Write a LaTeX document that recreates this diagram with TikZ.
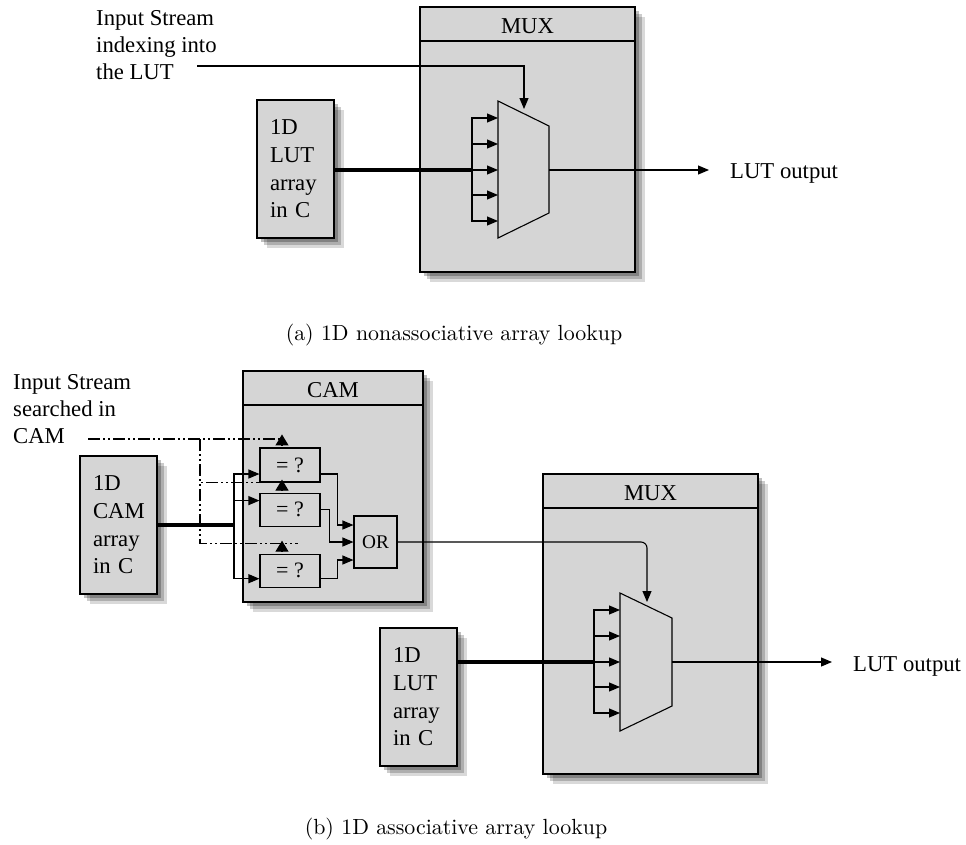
\documentclass[tikz,border=0pt]{standalone}
\usepackage{fontspec}
\setmainfont{Liberation Serif}
\newfontfamily\capfont[Extension=.otf]{lmroman10-regular}
\usetikzlibrary{arrows.meta,shadows,positioning}

\definecolor{blockgray}{gray}{0.835}

\tikzstyle{softshadow} = [general shadow={shadow xshift=4pt, shadow yshift=-4pt, fill=black, opacity=0.25},
                      general shadow={shadow xshift=7pt, shadow yshift=-7pt, fill=black, opacity=0.2},
                      general shadow={shadow xshift=10pt, shadow yshift=-10pt, fill=black, opacity=0.15}]
\tikzstyle{block} = [rectangle, draw=black, line width=1.1pt, fill=blockgray, softshadow, inner sep=0pt]
\tikzstyle{header} = [rectangle, draw=black, line width=1.1pt, fill=blockgray, anchor=north,
                      inner sep=0pt, text height=19pt, text depth=0pt, font=\fontsize{22.7}{27}\selectfont]
\tikzstyle{array} = [block, minimum width=77pt, minimum height=138pt, text width=51pt, align=left,
                      font=\fontsize{22.7}{27.6}\selectfont]
\tikzstyle{compare} = [rectangle, draw=black, line width=1.1pt, fill=blockgray, minimum width=60pt,
                      minimum height=33pt, inner sep=0pt, font=\fontsize{22}{24}\selectfont]
\tikzstyle{label} = [inner sep=0pt, align=left, font=\fontsize{22.7}{27}\selectfont]
\tikzstyle{legend} = [inner sep=0pt, font=\capfont\fontsize{21.9}{24}\selectfont]
\tikzstyle{wire} = [line width=1.1pt, -{Triangle[length=11pt,width=9pt]}]
\tikzstyle{bus} = [line width=3.6pt]
\tikzstyle{probe} = [line width=1.1pt, dash pattern=on 12pt off 3pt on 2pt off 3pt on 2pt off 3pt]
\tikzstyle{probetip} = [line width=1.1pt, -{Triangle[length=11pt,width=13pt]}]
\tikzstyle{gate} = [draw=black, line width=1.1pt, fill=blockgray]

\begin{document}
\begin{tikzpicture}[x=1pt, y=-1pt]

  \useasboundingbox (0,0) rectangle (966,844);

  % (a) nonassociative lookup
  \node (muxa) [block, minimum width=215pt, minimum height=265pt] at (527.5,139.5) {};
  \node (muxa-head) [header, minimum width=215pt, minimum height=34pt] at (muxa.north) {MUX};

  \node (luta) [array] at (295.5,169) {1D\\LUT\\array\\in C};

  \node (inputa) [label, anchor=north west] at (96,10) {Input Stream\\indexing into\\the LUT};
  \coordinate (inputa-end) at (197,66);

  \coordinate (muxa-nw) at (498,101);
  \coordinate (muxa-fork) at (472,170);
  \coordinate (muxa-out) at (549,170);
  \coordinate (muxa-sel) at (524,109);

  \draw[gate] (muxa-nw) -- ++(51,25) -- ++(0,87) -- ++(-51,25) -- cycle;

  \draw[bus] (luta.east |- muxa-fork) -- (muxa-fork);
  \foreach \y in {17,43,69,94,120}
    \draw[wire] (muxa-fork) |- ([yshift=-\y pt]muxa-nw);
  \draw[wire] (inputa-end) -| (muxa-sel);

  \node (outa) [label, anchor=west] at (730,173) {LUT output};
  \draw[wire] (muxa-out) -- ([xshift=-21pt]outa.west |- muxa-out);

  \node (capa) [legend] at (454,335) {(a) 1D nonassociative array lookup};

  % (b) associative lookup
  \node (camarray) [array] at (118.5,525) {1D\\CAM\\array\\in C};

  \node (cam) [block, minimum width=180pt, minimum height=231pt] at (333,486.5) {};
  \node (cam-head) [header, minimum width=180pt, minimum height=34pt] at (cam.north) {CAM};

  \node (eqa) [compare, minimum height=34pt] at (290,465) {= ?};
  \node (eqb) [compare, below=10pt of eqa] {= ?};
  \node (eqc) [compare, below=27pt of eqb] {= ?};
  \node (or) [compare, minimum width=43pt, minimum height=52pt, font=\fontsize{19.3}{22}\selectfont]
    at (375.5,542) {OR};

  \node (inputb) [label, anchor=north west] at (13,374) {Input Stream\\searched in\\CAM};

  \coordinate (fork) at (234,525);
  \draw[bus] (camarray.east |- fork) -- (fork);
  \draw[wire] (fork) |- ([yshift=-9pt]eqa.west);
  \draw[wire] (fork) |- ([yshift=9pt]eqb.west);
  \draw[wire] (fork) |- ([yshift=-8pt]eqc.west);

  \draw[wire] ([yshift=-9pt]eqa.east) -- ++(17,0) |- ([yshift=17pt]or.west);
  \draw[wire] (eqb.east) -- ++(9,0) |- (or.west);
  \draw[wire] ([yshift=-8pt]eqc.east) -- ++(17,0) |- ([yshift=-18pt]or.west);

  % search lines
  \coordinate (probe-start) at (88,439);
  \coordinate (probe-fork) at (200,439);
  \draw[probe] (probe-start) -- ([xshift=-8pt]eqa.north |- probe-fork);
  \draw[probe] (probe-fork) |- ([xshift=-8pt,yshift=10pt]eqb.north);
  \draw[probe] (probe-fork) |- ([xshift=8pt,yshift=10pt]eqc.north);
  \draw[probetip] ([xshift=-8pt,yshift=2pt]eqa.north) -- ++(0,-11);
  \draw[probetip] ([xshift=-8pt,yshift=2pt]eqb.north) -- ++(0,-11);
  \draw[probetip] ([xshift=-8pt,yshift=2pt]eqc.north) -- ++(0,-11);

  \node (muxb) [block, minimum width=215pt, minimum height=300pt] at (650.5,624) {};
  \node (muxb-head) [header, minimum width=215pt, minimum height=34pt] at (muxb.north) {MUX};

  \node (lutb) [array] at (418.5,697) {1D\\LUT\\array\\in C};

  \coordinate (muxb-nw) at (620,593);
  \coordinate (muxb-fork) at (594,662);
  \coordinate (muxb-out) at (672,662);
  \coordinate (muxb-sel) at (647,602);

  \draw[gate] (muxb-nw) -- ++(52,25) -- ++(0,88) -- ++(-52,25) -- cycle;

  \draw[bus] (lutb.east |- muxb-fork) -- (muxb-fork);
  \foreach \y in {17,43,69,94,120}
    \draw[wire] (muxb-fork) |- ([yshift=-\y pt]muxb-nw);
  \draw[wire, rounded corners=6pt] (or.east) -| (muxb-sel);

  \node (outb) [label, anchor=west] at (853,666) {LUT output};
  \draw[wire] (muxb-out) -- ([xshift=-21pt]outb.west |- muxb-out);

  \node (capb) [legend] at (456,829) {(b) 1D associative array lookup};

\end{tikzpicture}
\end{document}
